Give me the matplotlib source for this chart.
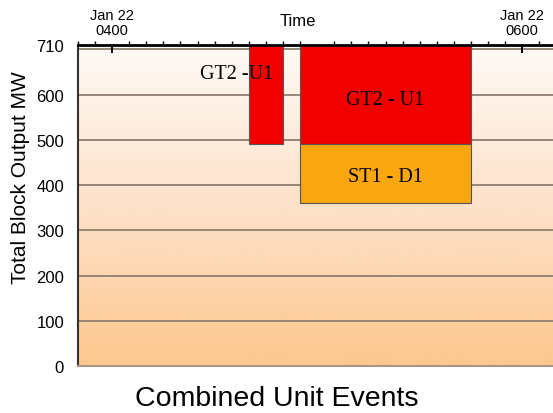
import matplotlib.pyplot as plt
import numpy as np
from matplotlib.colors import LinearSegmentedColormap

# event blocks: (label, start hh:mm, end hh:mm, low MW, high MW, colour)
labels = ["GT2 -U1", "GT2 - U1", "ST1 - D1"]
starts = ["04:40", "04:55", "04:55"]
ends = ["04:50", "05:45", "05:45"]
lows = [490, 490, 360]
highs = [710, 710, 490]
fills = ["#f20000", "#f20000", "#f9a611"]

yticks = [0, 100, 200, 300, 400, 500, 600, 710]
xmajor = ["04:00", "05:00", "06:00"]
xmajor_labels = ["Jan 22\n0400", "", "Jan 22\n0600"]


def hours(s):
    h, m = s.split(":")
    return int(h) + int(m) / 60.0


fig = plt.figure(figsize=(5.53, 4.14), dpi=100)
fig.set_facecolor("white")
ax = fig.add_axes([0.141, 0.1135, 0.859, 0.7755])

xmin, xmax = hours("03:50"), hours("06:09")
ax.set_xlim(xmin, xmax)
ax.set_ylim(0, 710)

# background gradient
grad = LinearSegmentedColormap.from_list("bg", ["#fdc78e", "#fde2ca", "#fffaf6"])
ax.imshow(np.linspace(0, 1, 256).reshape(-1, 1), cmap=grad, aspect="auto",
          extent=[xmin, xmax, 0, 710], origin="lower", zorder=0)

for y in range(100, 701, 100):
    ax.axhline(y, color="#8f7f70", lw=1.3, zorder=1)

for lab, s, e, lo, hi, c in zip(labels, starts, ends, lows, highs, fills):
    x0, x1 = hours(s), hours(e)
    ax.add_patch(plt.Rectangle((x0, lo), x1 - x0, hi - lo, facecolor=c,
                               edgecolor="#555555", lw=0.8, zorder=2))

# small block label sits partly outside its block
ax.text(hours(starts[0]) - 0.06, 646, labels[0], ha="center", va="center",
        family="Liberation Serif", fontsize=14.5, zorder=3)
ax.text((hours(starts[1]) + hours(ends[1])) / 2, 590, labels[1], ha="center",
        va="center", family="Liberation Serif", fontsize=14.5, zorder=3)
ax.text((hours(starts[2]) + hours(ends[2])) / 2, 418, labels[2], ha="center",
        va="center", family="Liberation Serif", fontsize=14.5, zorder=3)

ax.set_yticks(yticks)
ax.set_yticklabels([str(v) for v in yticks], family="Liberation Sans", fontsize=12)
ax.tick_params(axis="y", length=0, pad=10)

ax.xaxis.tick_top()
ax.set_xticks([hours(t) for t in xmajor])
ax.set_xticklabels(xmajor_labels, family="Liberation Sans", fontsize=10.5, linespacing=1.05)
ax.set_xticks(np.arange(hours("03:50"), xmax, 5 / 60.0), minor=True)
ax.tick_params(axis="x", which="major", direction="in", length=6, width=1.4, pad=6)
ax.tick_params(axis="x", which="minor", direction="out", length=3, width=1.0)
ax.set_xlabel("Time", family="Liberation Sans", fontsize=12, va="center")
ax.xaxis.set_label_coords(0.463, 1.075)

ax.spines["right"].set_visible(False)
ax.spines["bottom"].set_color("#a89888")
ax.spines["bottom"].set_linewidth(1.5)
ax.spines["top"].set_linewidth(2.0)
ax.spines["left"].set_linewidth(1.5)
ax.spines["left"].set_color("#333333")

ax.set_ylabel("Total Block Output MW", family="Liberation Sans", fontsize=15, va="center")
ax.yaxis.set_label_coords(-0.122, 0.59)

fig.text(0.5, 0.02, "Combined Unit Events", ha="center", va="baseline",
         family="Liberation Sans", fontsize=20.5)

fig.savefig("out.png", dpi=100)
